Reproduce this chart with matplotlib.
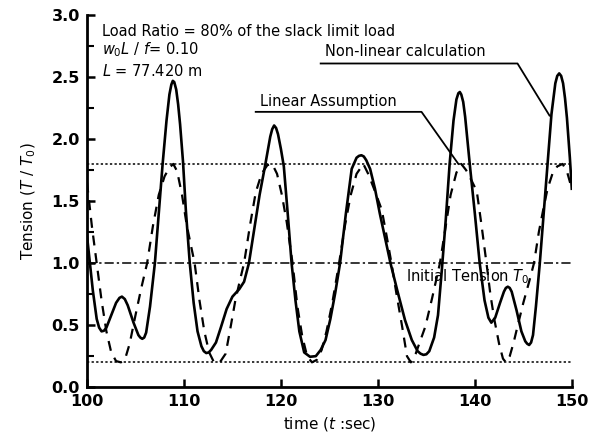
import matplotlib
matplotlib.use("Agg")
import matplotlib.pyplot as plt

# Non-linear calculation (solid)
t_nl = [100.0, 100.3, 100.6, 101.0, 101.25, 101.5, 101.75, 102.0, 102.5, 103.0,
        103.35, 103.6, 103.9, 104.2, 104.8, 105.3, 105.5, 105.7, 105.9, 106.1,
        106.5, 107.0, 107.4, 107.8, 108.2, 108.5, 108.7, 108.85, 109.0, 109.2,
        109.4, 109.6, 109.9, 110.2, 110.6, 111.0, 111.4, 111.8, 112.05, 112.3,
        112.55, 112.8, 113.3, 113.8, 114.4, 115.0, 115.7, 116.2, 116.7, 117.2,
        117.8, 118.4, 118.9, 119.1, 119.3, 119.5, 119.7, 120.0, 120.3, 120.7,
        121.1, 121.5, 121.9, 122.4, 123.0, 123.6, 124.1, 124.6, 125.1, 125.6,
        126.1, 126.7, 127.3, 127.8, 128.05, 128.3, 128.55, 128.8, 129.2, 129.7,
        130.2, 130.7, 131.3, 132.0, 132.8, 133.5, 134.1, 134.4, 134.7, 135.0,
        135.3, 135.8, 136.2, 136.6, 137.0, 137.4, 137.8, 138.1, 138.3, 138.45,
        138.6, 138.8, 139.0, 139.2, 139.5, 140.0, 140.5, 141.0, 141.4, 141.7,
        142.1, 142.6, 143.0, 143.2, 143.4, 143.6, 143.8, 144.3, 144.8, 145.2,
        145.4, 145.6, 145.8, 146.0, 146.3, 146.7, 147.1, 147.5, 147.9, 148.3,
        148.5, 148.7, 148.9, 149.1, 149.3, 149.5, 149.8, 150.0]
T_nl = [1.22, 1.00, 0.78, 0.55, 0.48, 0.45, 0.455, 0.48, 0.58, 0.68,
        0.72, 0.73, 0.71, 0.66, 0.52, 0.42, 0.40, 0.39, 0.40, 0.44,
        0.65, 1.00, 1.40, 1.80, 2.15, 2.36, 2.44, 2.47, 2.46, 2.40,
        2.28, 2.12, 1.82, 1.42, 1.00, 0.68, 0.45, 0.33, 0.29, 0.275,
        0.28, 0.30, 0.36, 0.48, 0.63, 0.73, 0.79, 0.85, 1.00, 1.25,
        1.55, 1.80, 2.02, 2.08, 2.11, 2.09, 2.04, 1.92, 1.78, 1.40,
        1.00, 0.70, 0.45, 0.28, 0.245, 0.25, 0.30, 0.38, 0.55, 0.76,
        1.00, 1.40, 1.76, 1.85, 1.865, 1.87, 1.86, 1.83, 1.76, 1.60,
        1.40, 1.22, 1.00, 0.78, 0.54, 0.38, 0.29, 0.27, 0.26, 0.265,
        0.29, 0.40, 0.58, 0.95, 1.35, 1.80, 2.15, 2.32, 2.37, 2.38,
        2.36, 2.30, 2.18, 2.02, 1.78, 1.40, 1.00, 0.70, 0.56, 0.52,
        0.56, 0.68, 0.77, 0.80, 0.81, 0.80, 0.77, 0.62, 0.45, 0.37,
        0.35, 0.34, 0.36, 0.42, 0.65, 1.00, 1.40, 1.80, 2.20, 2.45,
        2.51, 2.53, 2.51, 2.45, 2.33, 2.17, 1.85, 1.60]

# Linear assumption (dashed)
t_lin = [100.0, 100.5, 101.0, 101.5, 102.0, 102.5, 103.0, 103.5, 103.9, 104.4,
         105.0, 105.6, 106.2, 106.8, 107.4, 108.0, 108.5, 108.9, 109.3, 109.8,
         110.3, 111.1, 111.6, 112.1, 112.6, 113.1, 113.7, 114.3, 114.8, 115.3,
         115.8, 116.2, 116.8, 117.4, 118.0, 118.6, 119.1, 119.6, 120.1, 120.6,
         121.2, 121.7, 122.2, 122.7, 123.2, 123.7, 124.2, 124.7, 125.3, 126.0,
         126.6, 127.2, 127.8, 128.5, 129.0, 129.6, 130.4, 130.9, 131.4, 131.9,
         132.5, 133.0, 133.4, 133.9, 134.4, 134.9, 135.6, 136.4, 136.9, 137.5,
         138.1, 138.6, 139.1, 139.7, 140.2, 140.7, 141.2, 141.6, 142.0, 142.5,
         142.9, 143.2, 143.6, 144.0, 144.4, 145.0, 145.6, 146.1, 146.6, 147.1,
         147.5, 148.0, 148.5, 149.05, 149.5, 150.0]
T_lin = [1.65, 1.30, 1.00, 0.70, 0.45, 0.28, 0.21, 0.20, 0.22, 0.35,
         0.58, 0.80, 1.00, 1.30, 1.55, 1.70, 1.77, 1.80, 1.74, 1.55,
         1.30, 1.00, 0.70, 0.45, 0.28, 0.20, 0.20, 0.27, 0.48, 0.70,
         0.87, 1.00, 1.30, 1.57, 1.72, 1.79, 1.80, 1.72, 1.55, 1.33,
         1.00, 0.65, 0.41, 0.25, 0.20, 0.22, 0.30, 0.45, 0.68, 1.00,
         1.30, 1.55, 1.72, 1.80, 1.72, 1.60, 1.43, 1.22, 1.00, 0.76,
         0.49, 0.25, 0.20, 0.27, 0.38, 0.49, 0.72, 1.00, 1.25, 1.55,
         1.73, 1.80, 1.75, 1.66, 1.58, 1.30, 1.00, 0.75, 0.55, 0.35,
         0.23, 0.20, 0.25, 0.36, 0.49, 0.68, 0.85, 1.00, 1.25, 1.45,
         1.60, 1.72, 1.78, 1.80, 1.74, 1.60]

upper_limit = 1.8
lower_limit = 0.2
initial_tension = 1.0

x_ticks = [100, 110, 120, 130, 140, 150]
y_ticks = [0.0, 0.5, 1.0, 1.5, 2.0, 2.5, 3.0]

plt.rcParams['font.family'] = ['DejaVu Sans']

fig = plt.figure(figsize=(6.0, 4.45), dpi=100)
ax = fig.add_axes([0.145, 0.130, 0.808, 0.836])

ax.axhline(upper_limit, color='black', lw=1.1, ls=(0, (1.5, 1.5)), zorder=1)
ax.axhline(lower_limit, color='black', lw=1.1, ls=(0, (1.5, 1.5)), zorder=1)
ax.axhline(initial_tension, color='black', lw=1.1, ls=(0, (6, 2, 1.5, 2)), zorder=1)

ax.plot(t_lin, T_lin, color='black', lw=1.6, ls=(0, (4.5, 3.5)), zorder=3)
ax.plot(t_nl, T_nl, color='black', lw=1.9, zorder=4)

ax.set_xlim(100, 150)
ax.set_ylim(0, 3.0)
ax.set_xticks(x_ticks)
ax.set_xticklabels([f"{v}" for v in x_ticks])
ax.set_yticks(y_ticks)
ax.set_yticklabels([f"{v:.1f}" for v in y_ticks])
ax.set_yticks([0.25, 0.75, 1.25, 1.75, 2.25, 2.75], minor=True)

for s in ['top', 'right']:
    ax.spines[s].set_visible(False)
for s in ['left', 'bottom']:
    ax.spines[s].set_linewidth(2.0)
ax.tick_params(axis='both', which='major', direction='in', length=6, width=1.8,
               labelsize=11.5, pad=5)
ax.tick_params(axis='y', which='minor', direction='in', length=5, width=1.5)
for lab in ax.get_xticklabels() + ax.get_yticklabels():
    lab.set_fontweight('bold')

ax.set_xlabel(r"time ($t$ :sec)", fontsize=11, labelpad=4)
ax.set_ylabel(r"Tension ($T$ / $T_0$)", fontsize=11, labelpad=10)

tf = 10.5
ax.text(101.5, 2.87, "Load Ratio = 80% of the slack limit load", fontsize=tf, va='center')
ax.text(101.5, 2.72, r"$w_0L$ / $f$= 0.10", fontsize=tf, va='center')
ax.text(101.5, 2.55, r"$L$ = 77.420 m", fontsize=tf, va='center')

ax.text(124.5, 2.71, "Non-linear calculation", fontsize=tf, va='center')
ax.plot([124.1, 144.4, 147.7], [2.61, 2.61, 2.19], color='black', lw=1.3, zorder=5)

ax.text(117.8, 2.30, "Linear Assumption", fontsize=tf, va='center')
ax.plot([117.4, 134.5, 138.3], [2.22, 2.22, 1.80], color='black', lw=1.3, zorder=5)

ax.text(132.9, 0.89, r"Initial Tension $T_0$", fontsize=tf, va='center', zorder=2)

fig.savefig("out.png", dpi=100)
